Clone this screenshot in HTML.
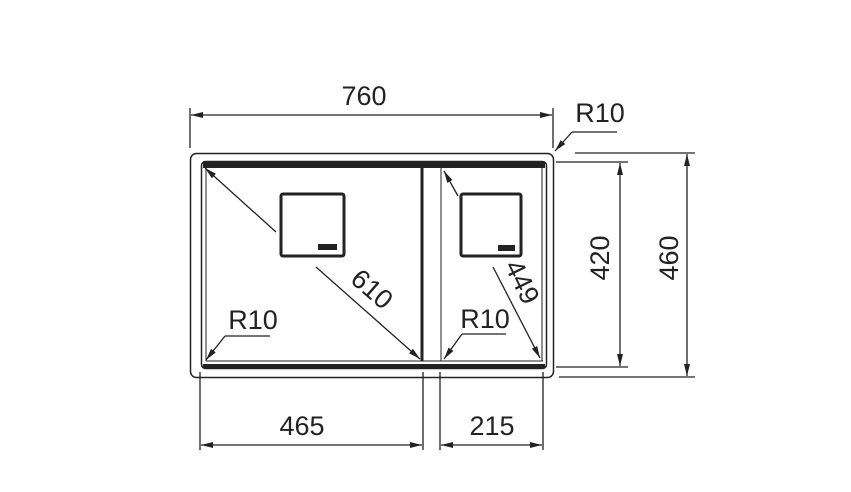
<!DOCTYPE html>
<html><head><meta charset="utf-8"><style>
html,body{margin:0;padding:0;background:#fff;}
svg{display:block;}
text{font-family:"Liberation Sans",sans-serif;fill:#222;}
</style></head><body>
<svg width="851" height="492" viewBox="0 0 851 492" xmlns="http://www.w3.org/2000/svg">
<defs>
<marker id="a" viewBox="0 0 12 6" refX="12" refY="3" markerWidth="12" markerHeight="6" orient="auto-start-reverse" markerUnits="userSpaceOnUse">
<path d="M0,0 L12,3 L0,6 z" fill="#222"/></marker>
</defs>
<g stroke="#222" fill="none">
<rect x="190.5" y="153.5" width="363" height="224" rx="6" stroke-width="1.5"/>
<rect x="201.5" y="161.5" width="345" height="207" rx="4" stroke-width="1.5"/>
<line x1="203" y1="165" x2="545" y2="165" stroke-width="6"/>
<line x1="203" y1="366" x2="545" y2="366" stroke-width="4"/>
<line x1="206" y1="361" x2="543" y2="361" stroke-width="1"/>
<line x1="206" y1="167" x2="206" y2="361" stroke-width="1"/>
<line x1="542" y1="167" x2="542" y2="361" stroke-width="1"/>
<line x1="422" y1="167" x2="422" y2="361" stroke-width="3"/>
<line x1="441" y1="167" x2="441" y2="361" stroke-width="1"/>
<rect x="281" y="194" width="63" height="62" rx="2" stroke-width="3"/>
<rect x="318" y="244" width="19" height="6" fill="#222" stroke="none"/>
<rect x="461" y="194" width="60" height="62" rx="2" stroke-width="3"/>
<rect x="498" y="245" width="17" height="6" fill="#222" stroke="none"/>
<line x1="205" y1="168" x2="276" y2="232" stroke-width="1.3" marker-start="url(#a)"/>
<line x1="316" y1="267" x2="420" y2="359" stroke-width="1.3" marker-end="url(#a)"/>
<line x1="444" y1="171" x2="458" y2="196" stroke-width="1.3" marker-start="url(#a)"/>
<line x1="493" y1="267" x2="540" y2="358" stroke-width="1.3" marker-end="url(#a)"/>
<polyline points="225,336 270,336" stroke-width="1.3"/>
<line x1="225" y1="336" x2="206" y2="360" stroke-width="1.3" marker-end="url(#a)"/>
<polyline points="462,334 506,334" stroke-width="1.3"/>
<line x1="462" y1="334" x2="444" y2="359" stroke-width="1.3" marker-end="url(#a)"/>
<polyline points="572,132 617,132" stroke-width="1.3"/>
<line x1="572" y1="132" x2="555" y2="151" stroke-width="1.3" marker-end="url(#a)"/>
<line x1="190" y1="108" x2="190" y2="148" stroke-width="1.3"/>
<line x1="553" y1="108" x2="553" y2="148" stroke-width="1.3"/>
<line x1="191" y1="115" x2="552" y2="115" stroke-width="1.3" marker-start="url(#a)" marker-end="url(#a)"/>
<line x1="556" y1="162" x2="628" y2="162" stroke-width="1.3"/>
<line x1="556" y1="367" x2="628" y2="367" stroke-width="1.3"/>
<line x1="620" y1="163" x2="620" y2="366" stroke-width="1.3" marker-start="url(#a)" marker-end="url(#a)"/>
<line x1="575" y1="153" x2="695" y2="153" stroke-width="1.3"/>
<line x1="559" y1="377" x2="695" y2="377" stroke-width="1.3"/>
<line x1="687" y1="154" x2="687" y2="376" stroke-width="1.3" marker-start="url(#a)" marker-end="url(#a)"/>
<line x1="200" y1="372" x2="200" y2="450" stroke-width="1.3"/>
<line x1="423" y1="372" x2="423" y2="450" stroke-width="1.3"/>
<line x1="440" y1="372" x2="440" y2="450" stroke-width="1.3"/>
<line x1="543" y1="372" x2="543" y2="450" stroke-width="1.3"/>
<line x1="201" y1="445" x2="422" y2="445" stroke-width="1.3" marker-start="url(#a)" marker-end="url(#a)"/>
<line x1="441" y1="445" x2="542" y2="445" stroke-width="1.3" marker-start="url(#a)" marker-end="url(#a)"/>
</g>
<g font-size="27">
<text x="364" y="105" text-anchor="middle">760</text>
<text x="600" y="122" text-anchor="middle">R10</text>
<text x="253" y="329" text-anchor="middle">R10</text>
<text x="485" y="328" text-anchor="middle">R10</text>
<text x="302" y="435" text-anchor="middle">465</text>
<text x="492" y="435" text-anchor="middle">215</text>
<text transform="translate(609,258) rotate(-90)" text-anchor="middle">420</text>
<text transform="translate(678,258) rotate(-90)" text-anchor="middle">460</text>
<text transform="translate(366,296) rotate(41)" text-anchor="middle">610</text>
<text transform="translate(514,286) rotate(64)" text-anchor="middle">449</text>
</g>
</svg>
</body></html>
